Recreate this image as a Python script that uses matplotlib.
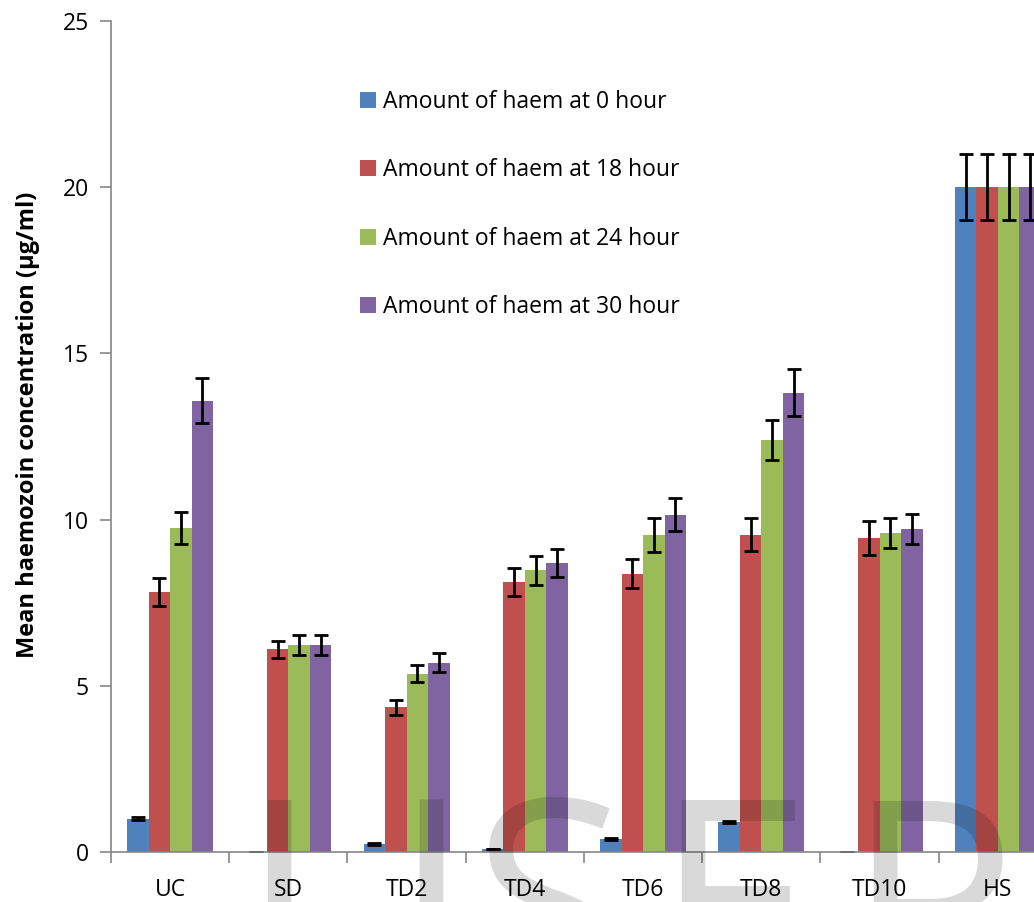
import matplotlib.pyplot as plt
import numpy as np
from matplotlib.textpath import TextPath
from matplotlib.font_manager import FontProperties

categories = ["UC", "SD", "TD2", "TD4", "TD6", "TD8", "TD10", "HS"]
series = ["Amount of haem at 0 hour", "Amount of haem at 18 hour",
          "Amount of haem at 24 hour", "Amount of haem at 30 hour"]

haem_0 = [1.0, 0.0, 0.25, 0.08, 0.4, 0.9, 0.0, 20.0]
haem_18 = [7.82, 6.1, 4.35, 8.13, 8.37, 9.55, 9.45, 20.0]
haem_24 = [9.75, 6.22, 5.37, 8.47, 9.54, 12.4, 9.6, 20.0]
haem_30 = [13.58, 6.22, 5.7, 8.69, 10.15, 13.82, 9.72, 20.0]

err_0 = [0.04, 0.0, 0.03, 0.0, 0.03, 0.04, 0.0, 1.0]
err_18 = [0.41, 0.25, 0.22, 0.42, 0.44, 0.5, 0.5, 1.0]
err_24 = [0.48, 0.3, 0.25, 0.44, 0.5, 0.6, 0.45, 1.0]
err_30 = [0.68, 0.3, 0.28, 0.43, 0.5, 0.7, 0.45, 1.0]

colors = ["#4F81BD", "#C0504D", "#9BBB59", "#8064A2"]
font = "Open Sans"

fig = plt.figure(figsize=(10.34, 9.02), dpi=100)
# axes run past the right edge of the picture, as in the reference
ax = fig.add_axes([111 / 1034, 50 / 902, 946 / 1034, 831 / 902])

x = np.arange(len(categories))
w = 0.182
values = [haem_0, haem_18, haem_24, haem_30]
errors = [err_0, err_18, err_24, err_30]
for i in range(4):
    ax.bar(x + (i - 1.5) * w, values[i], w, color=colors[i], label=series[i],
           yerr=errors[i], capsize=5,
           error_kw=dict(elinewidth=2, capthick=2, ecolor="black"))

ax.set_xlim(-0.5, len(categories) - 0.5)
ax.set_ylim(0, 25)
ax.set_yticks([0, 5, 10, 15, 20, 25])
ax.set_xticks(x)
ax.set_xticklabels(categories, fontsize=16.5, family=font)
ax.set_xticks(np.arange(len(categories) + 1) - 0.5, minor=True)
ax.tick_params(axis="x", which="major", length=0, pad=19)
ax.tick_params(axis="x", which="minor", length=8, color="#868686", width=1.2)
ax.tick_params(axis="y", length=8, color="#868686", width=1.2, labelsize=16.5, pad=8)
for lab in ax.get_yticklabels():
    lab.set_family(font)

for s in ["top", "right"]:
    ax.spines[s].set_visible(False)
for s in ["left", "bottom"]:
    ax.spines[s].set_color("#868686")
    ax.spines[s].set_linewidth(1.2)

ax.set_ylabel("Mean haemozoin concentration (µg/ml)", fontsize=17,
              fontweight="bold", family=font)
ax.yaxis.set_label_coords(-0.075, 0.514)

ax.legend(loc="upper left", bbox_to_anchor=(0.2414, 0.942), frameon=False,
          prop={"family": font, "size": 16.5}, handlelength=0.7, handleheight=0.7,
          handletextpad=0.3, labelspacing=1.94)

# watermark, letters placed by the left edge of their ink (J by its stem's right edge)
wm_size = 205
fp = FontProperties(family=font)
px_per_pt = 100 / 72
cap = TextPath((0, 0), "I", size=wm_size, prop=fp).get_extents().ymax * px_per_pt
baseline = 902 - (800 + cap)
for letter, edge in zip("IJSER", [267, 443, 486, 681, 873]):
    ext = TextPath((0, 0), letter, size=wm_size, prop=fp).get_extents()
    if letter == "J":
        left = edge - ext.xmax * px_per_pt
    else:
        left = edge - ext.xmin * px_per_pt
    fig.text(left / 1034, baseline / 902, letter, fontsize=wm_size, family=font,
             color="black", alpha=0.15, ha="left", va="baseline")

fig.savefig("out.png", dpi=100)
